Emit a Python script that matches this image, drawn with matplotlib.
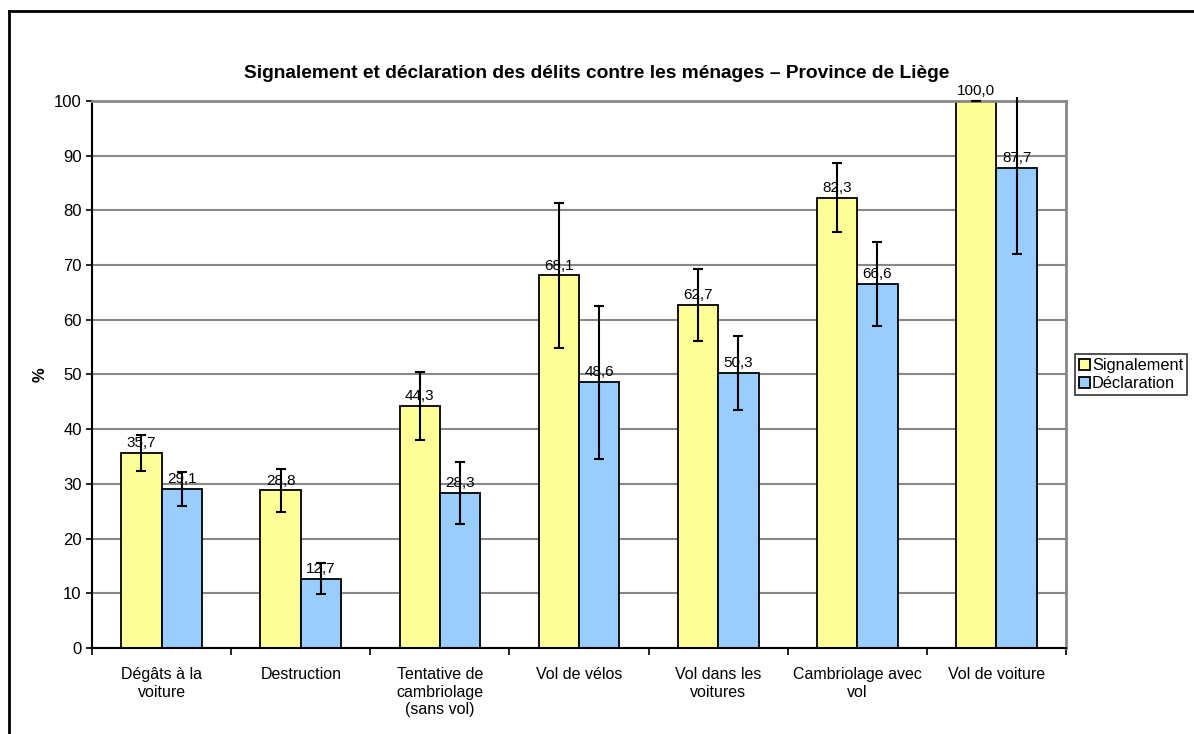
import matplotlib
matplotlib.use('Agg')
import matplotlib.pyplot as plt
from matplotlib.lines import Line2D
import numpy as np

plt.rcParams['font.family'] = ['Liberation Sans', 'DejaVu Sans']

# Data
categories = ['Dégâts à la\nvoiture', 'Destruction', 'Tentative de\ncambriolage\n(sans vol)',
              'Vol de vélos', 'Vol dans les\nvoitures', 'Cambriolage avec\nvol', 'Vol de voiture']
signalement = [35.7, 28.8, 44.3, 68.1, 62.7, 82.3, 100.0]
declaration = [29.1, 12.7, 28.3, 48.6, 50.3, 66.6, 87.7]
err_signalement = [3.3, 3.9, 6.2, 13.2, 6.6, 6.3, 0.0]
err_declaration = [3.1, 2.8, 5.7, 14.0, 6.8, 7.7, 15.6]
yticks = list(range(0, 101, 10))

fig = plt.figure(figsize=(11.94, 7.34), dpi=100)
ax = fig.add_axes([0.0771, 0.1172, 0.8157, 0.7452])

x = np.arange(len(categories))
w = 0.29
ax.bar(x - w / 2, signalement, w, color='#FFFF99', edgecolor='black', linewidth=1.3, zorder=2,
       label='Signalement')
ax.bar(x + w / 2, declaration, w, color='#99CCFF', edgecolor='black', linewidth=1.3, zorder=2,
       label='Déclaration')
ax.errorbar(x - w / 2, signalement, yerr=err_signalement, fmt='none', ecolor='black',
            elinewidth=1.5, capsize=3.5, capthick=1.5, zorder=3, clip_on=False)
eb = ax.errorbar(x + w / 2, declaration, yerr=err_declaration, fmt='none', ecolor='black',
                 elinewidth=1.5, capsize=3.5, capthick=1.5, zorder=3)
# Excel cuts the bars slightly above the plot area
clip_box = matplotlib.transforms.Bbox.from_bounds(0, 0, 1, 1.008)
for art in list(eb.lines[1]) + list(eb.lines[2]):
    art.set_clip_box(matplotlib.transforms.TransformedBbox(clip_box, ax.transAxes))

# value labels
for xs, vals in [(x - w / 2, signalement), (x + w / 2, declaration)]:
    for xi, v in zip(xs, vals):
        ax.annotate(f'{v:.1f}'.replace('.', ','), (xi, v), xytext=(0, 2),
                    textcoords='offset points', ha='center', va='bottom', fontsize=11, zorder=4)

ax.set_xlim(-0.5, len(categories) - 0.5)
ax.set_ylim(0, 100)
ax.set_yticks(yticks)
ax.tick_params(axis='y', labelsize=12, length=4, width=1.2, direction='out')
ax.set_xticks(x)
ax.set_xticklabels(categories, fontsize=11.5, linespacing=1.2)
ax.tick_params(axis='x', length=0, pad=14)
# category separator ticks
ax.set_xticks(np.arange(-0.5, len(categories), 1.0), minor=True)
ax.tick_params(axis='x', which='minor', length=5, width=1.2, direction='out')

ax.yaxis.grid(True, color='#888888', linewidth=1.5, zorder=0)
ax.set_axisbelow(True)
for s in ['left', 'bottom']:
    ax.spines[s].set_color('black')
    ax.spines[s].set_linewidth(1.5)
for s in ['top', 'right']:
    ax.spines[s].set_color('#888888')
    ax.spines[s].set_linewidth(2)

fig.text(40 / 1194, 1 - 375 / 734, '%', ha='center', va='center', rotation=90,
         fontsize=12, fontweight='bold')
fig.text(0.5, 1 - 74 / 734, 'Signalement et déclaration des délits contre les ménages \u2013 Province de Liège',
         ha='center', va='center', fontsize=13.8, fontweight='bold')

leg = ax.legend(loc='center left', bbox_to_anchor=(1.009, 0.5), fontsize=11.8, frameon=True,
                fancybox=False, edgecolor='black', handlelength=0.65, handleheight=0.65,
                handletextpad=0.15, borderpad=0.25, labelspacing=0.2, borderaxespad=0)
leg.get_frame().set_linewidth(1.2)

# outer frame
fig.add_artist(Line2D([9 / 1194, 9 / 1194], [0, 1 - 11 / 734], color='black', linewidth=2,
                      transform=fig.transFigure))
fig.add_artist(Line2D([9 / 1194, 1], [1 - 11 / 734, 1 - 11 / 734], color='black', linewidth=2,
                      transform=fig.transFigure))

fig.savefig('out.png', dpi=100)
